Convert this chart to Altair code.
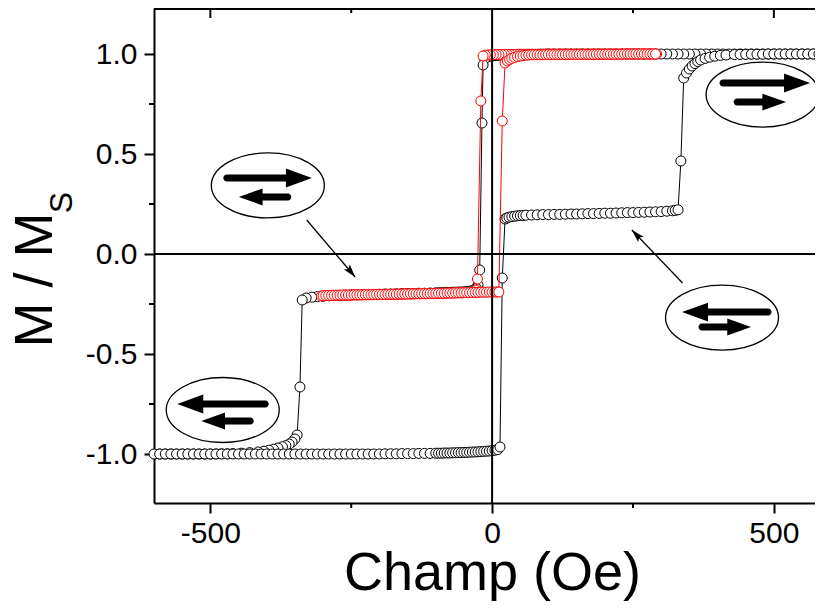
import altair as alt
import pandas as pd

# ---------------- data ----------------
# Black major loop: descending branch (+600 -> -600)
BD_X = [600, 590, 580, 570, 560, 550, 540, 530, 520, 510, 500, 490, 480, 470, 460, 450, 440, 430, 420, 410,
        400, 390, 380, 370, 360, 350, 340, 330, 320, 310, 300, 290, 280, 270, 260, 250, 240, 230, 220, 210,
        200, 190, 180, 170, 160, 150, 140, 130, 120, 110, 100,
        95, 90, 85, 80, 75, 70, 65, 60, 55, 50, 45, 40, 35, 30, 25, 20, 15, 10, 5, 0, -5, -10, -13,
        -16, -18, -22, -25, -28, -32, -36, -40, -45, -50, -55, -60, -65, -70, -75, -80, -85, -90, -95, -100,
        -110, -120, -130, -140, -150, -160, -170, -180, -190, -200, -210, -220, -230, -240, -250, -260, -270,
        -280, -290, -300, -310, -320, -330,
        -337, -341, -346, -350, -355, -360, -366, -372, -380, -388, -396, -405, -415, -430, -445, -460,
        -470, -480, -490, -500, -510, -520, -530, -540, -550, -560, -570, -580, -590, -600]
BD_Y = [1.0, 1.0, 1.0, 1.0, 1.0, 1.0, 1.0, 1.0, 1.0, 1.0, 1.0, 1.0, 1.0, 1.0, 1.0, 1.0, 1.0, 1.0, 1.0, 1.0,
        1.0, 1.0, 1.0, 1.0, 1.0, 1.0, 1.0, 1.0, 1.0, 1.0, 1.0, 1.0, 1.0, 1.0, 1.0, 1.0, 1.0, 1.0, 1.0, 1.0,
        1.0, 1.0, 1.0, 1.0, 1.0, 1.0, 1.0, 1.0, 1.0, 1.0, 1.0,
        0.999, 0.999, 0.999, 0.998, 0.998, 0.998, 0.998, 0.997, 0.997, 0.997, 0.996, 0.996, 0.996, 0.995,
        0.995, 0.994, 0.994, 0.993, 0.992, 0.990, 0.988, 0.985, 0.975,
        0.945, 0.655, -0.080, -0.155, -0.172, -0.180, -0.184, -0.186, -0.188, -0.189, -0.190, -0.190, -0.191,
        -0.191, -0.192, -0.192, -0.193, -0.193, -0.194, -0.194,
        -0.195, -0.196, -0.196, -0.197, -0.198, -0.198, -0.199, -0.200, -0.200, -0.201, -0.202, -0.202,
        -0.203, -0.204, -0.205, -0.206, -0.207, -0.208, -0.209, -0.211, -0.213, -0.216, -0.220,
        -0.230, -0.665, -0.905, -0.925, -0.940, -0.950, -0.958, -0.964, -0.970, -0.976, -0.981, -0.986,
        -0.990, -0.993, -0.996, -0.998,
        -0.999, -0.999, -1.0, -1.0, -1.0, -1.0, -1.0, -1.0, -1.0, -1.0, -1.0, -1.0, -1.0, -1.0]

# Black major loop: ascending branch (-600 -> +600)
BA_X = [-590, -580, -570, -560, -550, -540, -530, -520, -510, -500, -490, -480, -470, -460, -450, -440,
        -430, -420, -410, -400, -390, -380, -370, -360, -350, -340, -330, -320, -310, -300, -290, -280,
        -270, -260, -250, -240, -230, -220, -210, -200, -190, -180, -170, -160, -150, -140, -130, -120,
        -110, -100,
        -95, -90, -85, -80, -75, -70, -65, -60, -55, -50, -45, -40, -35, -30, -25, -20, -15, -10, -5, 0, 5, 10,
        14, 18, 23, 26, 30, 35, 40, 45, 50, 55, 60, 70,
        80, 90, 100, 110, 120, 130, 140, 150, 160, 170, 180, 190, 200, 210, 220, 230, 240, 250, 260, 270,
        280, 290, 300, 310, 320,
        325, 330, 335, 340, 345, 350, 355, 360, 365, 370, 378, 386, 395, 405, 415, 430,
        440, 450, 460, 470, 480, 490, 500, 510, 520, 530, 540, 550, 560, 570, 580, 590, 600]
BA_Y = [-1.0, -1.0, -1.0, -1.0, -1.0, -1.0, -1.0, -1.0, -1.0, -1.0, -1.0, -1.0, -1.0, -1.0, -1.0, -1.0,
        -1.0, -1.0, -1.0, -1.0, -1.0, -1.0, -1.0, -1.0, -1.0, -1.0, -1.0, -1.0, -1.0, -1.0, -1.0, -1.0,
        -1.0, -1.0, -1.0, -1.0, -1.0, -1.0, -1.0, -1.0, -0.999, -0.999, -0.999, -0.998, -0.998, -0.998,
        -0.997, -0.997, -0.997, -0.996,
        -0.996, -0.996, -0.995, -0.995, -0.995, -0.994, -0.994, -0.993, -0.993, -0.992, -0.992, -0.991,
        -0.990, -0.990, -0.989, -0.988, -0.987, -0.986, -0.985, -0.983, -0.981, -0.978,
        -0.965, -0.120, 0.175, 0.180, 0.184, 0.187, 0.189, 0.191, 0.192, 0.193, 0.194, 0.195,
        0.196, 0.197, 0.197, 0.198, 0.198, 0.199, 0.200, 0.200, 0.201, 0.202, 0.202, 0.203, 0.204, 0.204,
        0.205, 0.206, 0.207, 0.207, 0.208, 0.209, 0.210, 0.211, 0.212, 0.214, 0.216,
        0.218, 0.221, 0.465, 0.880, 0.905, 0.925, 0.940, 0.952, 0.962, 0.970, 0.978, 0.984, 0.989, 0.993,
        0.995, 0.997,
        0.998, 0.998, 0.999, 0.999, 0.999, 1.0, 1.0, 1.0, 1.0, 1.0, 1.0, 1.0, 1.0, 1.0, 1.0, 1.0, 1.0]

# Red minor loop: descending branch (+292 -> -303)
RD_X = [292, 287, 282, 277, 272, 267, 262, 257, 252, 247, 242, 237, 232, 227, 222, 217, 212, 207, 202, 197,
        192, 187, 182, 177, 172, 167, 162, 157, 152, 147, 142, 137, 132, 127, 122, 117, 112, 107, 102, 97,
        92, 87, 82, 77, 72, 67, 62, 57, 52, 47, 42, 37, 32, 27, 22, 17, 12, 7, 2, -3, -8,
        -12, -16, -20, -26, -29, -33,
        -38, -43, -48, -53, -58, -63, -68, -73, -78, -83, -88, -93, -98, -103, -108, -113, -118, -123, -128,
        -133, -138, -143, -148, -153, -158, -163, -168, -173, -178, -183, -188, -193, -198, -203, -208, -213,
        -218, -223, -228, -233, -238, -243, -248, -253, -258, -263, -268, -273, -278, -283, -288, -293, -298,
        -303]
RD_Y = [1.0, 1.0, 1.0, 1.0, 1.0, 1.0, 1.0, 1.0, 1.0, 1.0, 1.0, 1.0, 1.0, 1.0, 1.0, 1.0, 1.0, 1.0, 1.0, 1.0,
        1.0, 1.0, 1.0, 1.0, 1.0, 1.0, 1.0, 1.0, 1.0, 1.0, 1.0, 1.0, 1.0, 1.0, 1.0, 1.0, 1.0, 1.0, 1.0, 1.0,
        0.999, 0.999, 0.999, 0.999, 0.999, 0.999, 0.999, 0.999, 0.999, 0.999, 0.998, 0.998, 0.998, 0.998,
        0.998, 0.998, 0.997, 0.997, 0.996, 0.996, 0.995,
        0.994, 0.990, 0.765, -0.125, -0.180, -0.190,
        -0.192, -0.193, -0.193, -0.194, -0.194, -0.194, -0.195, -0.195, -0.195, -0.196,
        -0.196, -0.196, -0.197, -0.197, -0.197, -0.198, -0.198, -0.198, -0.199, -0.199,
        -0.199, -0.200, -0.200, -0.200, -0.200, -0.201, -0.201, -0.201, -0.202, -0.202,
        -0.202, -0.202, -0.203, -0.203, -0.203, -0.204, -0.204, -0.204, -0.204, -0.205,
        -0.205, -0.205, -0.205, -0.206, -0.206, -0.206, -0.206, -0.207, -0.207, -0.207,
        -0.208, -0.208, -0.209, -0.210]

# Red minor loop: ascending branch (-300 -> +290)
RA_X = [-300, -295, -290, -285, -280, -275, -270, -265, -260, -255, -250, -245, -240, -235, -230, -225,
        -220, -215, -210, -205, -200, -195, -190, -185, -180, -175, -170, -165, -160, -155, -150, -145,
        -140, -135, -130, -125, -120, -115, -110, -105, -100, -95, -90, -85, -80, -75, -70, -65, -60, -55,
        -50, -45, -40, -35, -30, -25, -20, -15, -10, -5, 0, 5,
        9, 12, 18, 23, 27, 31, 35, 40, 45, 50, 55, 60, 65,
        70, 75, 80, 85, 90, 95, 100, 105, 110, 115, 120, 125, 130, 135, 140, 145, 150, 155, 160, 165, 170,
        175, 180, 185, 190, 195, 200, 205, 210, 215, 220, 225, 230, 235, 240, 245, 250, 255, 260, 265, 270,
        275, 280, 285, 290]
RA_Y = [-0.209, -0.208, -0.207, -0.207, -0.206, -0.206, -0.206, -0.205, -0.205, -0.205,
        -0.205, -0.204, -0.204, -0.204, -0.204, -0.203, -0.203, -0.203, -0.203, -0.202,
        -0.202, -0.202, -0.202, -0.201, -0.201, -0.201, -0.201, -0.200, -0.200, -0.200,
        -0.200, -0.199, -0.199, -0.199, -0.199, -0.198, -0.198, -0.198, -0.197, -0.197,
        -0.197, -0.196, -0.196, -0.196, -0.195, -0.195, -0.195, -0.194, -0.194, -0.194,
        -0.193, -0.193, -0.193, -0.192, -0.192, -0.192, -0.191, -0.191, -0.191, -0.190, -0.190, -0.190,
        -0.190, -0.190, 0.665, 0.955, 0.965, 0.972, 0.978, 0.983, 0.987, 0.990, 0.992, 0.994, 0.995,
        0.996, 0.996, 0.996, 0.996, 0.996, 0.997, 0.997, 0.997, 0.997, 0.997, 0.997, 0.997, 0.997,
        0.998, 0.998, 0.998, 0.998, 0.998, 0.998, 0.998, 0.998, 0.998, 0.998,
        0.999, 0.999, 0.999, 0.999, 0.999, 0.999, 0.999, 0.999, 0.999, 0.999,
        1.0, 1.0, 1.0, 1.0, 1.0, 1.0, 1.0, 1.0, 1.0, 1.0, 1.0, 1.0]

X_TICKS = [-500, 0, 500]
X_MINOR = [-250, 250]
Y_TICKS = [-1.0, -0.5, 0.0, 0.5, 1.0]
Y_MINOR = [-0.75, -0.25, 0.25, 0.75]

# annotation glyphs: centre (field, M/Ms)
GLYPH_X = [-398, -478, 480, 408]
GLYPH_Y = [0.343, -0.78, 0.797, -0.318]
# pointer arrows: start and tip in data units
PTR_X0 = [-329, 338]
PTR_Y0 = [0.17, -0.145]
PTR_X1 = [-243, 248]
PTR_Y1 = [-0.115, 0.12]
PTR_ANGLE = [140, 316]

# ---------------- helpers ----------------
def arrow_path(y, tail, tip, t, L, h):
    d = 1 if tip > tail else -1
    base = tip - d * L
    sweep = 1 if d == 1 else 0
    return (f"M{tail},{y - t}L{base},{y - t}L{base},{y - h}L{tip},{y}L{base},{y + h}"
            f"L{base},{y + t}L{tail},{y + t}A{t},{t} 0 0 {sweep} {tail},{y - t}Z")

T, LL, HL, LS, HS = 0.062, 0.46, 0.168, 0.42, 0.15
GLYPH_PATHS = [
    arrow_path(-0.133, -0.726, 0.78, T, LL, HL) + arrow_path(0.204, 0.354, -0.513, T, LS, HS),
    arrow_path(-0.106, 0.752, -0.805, T, LL, HL) + arrow_path(0.195, 0.487, -0.38, T, LS, HS),
    arrow_path(-0.204, -0.70, 0.84, T, LL, HL) + arrow_path(0.133, -0.45, 0.416, T, LS, HS),
    arrow_path(-0.097, 0.814, -0.708, T, LL, HL) + arrow_path(0.168, -0.354, 0.513, T, LS, HS),
]
ELLIPSE = "M-1,0A1,0.575 0 1 1 1,0A1,0.575 0 1 1 -1,0Z"
HEAD = "M0,0L0.6,2L0,1.6L-0.6,2Z"

black = pd.DataFrame({"x": BD_X + BA_X, "y": BD_Y + BA_Y})
black["i"] = range(len(black))
red = pd.DataFrame({"x": RD_X + RA_X, "y": RD_Y + RA_Y})
red["i"] = range(len(red))
glyphs = pd.DataFrame({"x": GLYPH_X, "y": GLYPH_Y, "p": GLYPH_PATHS})
ptrs = pd.DataFrame({"x": PTR_X0, "y": PTR_Y0, "x1": PTR_X1, "y1": PTR_Y1, "a": PTR_ANGLE})
heads = pd.DataFrame({"x": PTR_X1, "y": PTR_Y1, "a": PTR_ANGLE})

FONT = "Liberation Sans"
W, H = 661, 495
XS = alt.Scale(domain=[-600, 573], nice=False, zero=False)
YS = alt.Scale(domain=[-1.245, 1.23], nice=False, zero=False)
fix = "replace(datum.label, '\u2212', '-')"

x_axis = alt.Axis(values=X_TICKS, format="d", labelExpr=fix, title="Champ (Oe)", tickSize=10, tickWidth=2,
                  domainWidth=2, labelFontSize=30, labelPadding=5, titleFontSize=54, titlePadding=-2,
                  titleX=338)
y_axis = alt.Axis(values=Y_TICKS, format=".1f", labelExpr=fix, title=None, tickSize=10, tickWidth=2,
                  domainWidth=2, labelFontSize=30, labelPadding=7)

X = alt.X("x:Q", scale=XS, axis=x_axis)
Y = alt.Y("y:Q", scale=YS, axis=y_axis)

black_line = alt.Chart(black).mark_line(color="black", strokeWidth=1).encode(x=X, y=Y, order="i:Q")
black_pts = alt.Chart(black).mark_point(shape="circle", filled=True, fill="white", stroke="black",
                                        strokeWidth=1, size=100, opacity=1).encode(x=X, y=Y)
red_line = alt.Chart(red).mark_line(color="#ff0000", strokeWidth=1).encode(x=X, y=Y, order="i:Q")
red_pts = alt.Chart(red).mark_point(shape="circle", filled=True, fill="white", stroke="#ff0000",
                                    strokeWidth=1, size=100, opacity=1).encode(x=X, y=Y)

zero_h = alt.Chart(pd.DataFrame({"y": [0]})).mark_rule(color="black", strokeWidth=2).encode(y=Y)
zero_v = alt.Chart(pd.DataFrame({"x": [0]})).mark_rule(color="black", strokeWidth=2).encode(x=X)
top_frame = alt.Chart(pd.DataFrame({"a": [0]})).mark_rule(color="black", strokeWidth=2).encode(
    y=alt.value(1))

top_major = alt.Chart(pd.DataFrame({"x": [-500, 500]})).mark_rule(color="black", strokeWidth=2).encode(
    x=X, y=alt.value(0), y2=alt.value(10))
top_minor = alt.Chart(pd.DataFrame({"x": X_MINOR})).mark_rule(color="black", strokeWidth=2).encode(
    x=X, y=alt.value(0), y2=alt.value(5))
bot_minor = alt.Chart(pd.DataFrame({"x": X_MINOR})).mark_rule(color="black", strokeWidth=2).encode(
    x=X, y=alt.value(H), y2=alt.value(H + 5))
left_minor = alt.Chart(pd.DataFrame({"y": Y_MINOR})).mark_rule(color="black", strokeWidth=2).encode(
    y=Y, x=alt.value(-5), x2=alt.value(0))

ellipses = alt.Chart(glyphs).mark_point(shape=ELLIPSE, filled=True, fill="white", stroke="black",
                                        strokeWidth=1.3, size=113 * 113, opacity=1).encode(x=X, y=Y)
arrows = alt.Chart(glyphs).mark_point(filled=True, fill="black", strokeWidth=0, size=113 * 113,
                                      opacity=1).encode(
    x=X, y=Y, shape=alt.Shape("p:N", scale=None, legend=None))
ptr_lines = alt.Chart(ptrs).mark_rule(color="black", strokeWidth=1.3).encode(
    x=X, y=Y, x2="x1:Q", y2="y1:Q")
ptr_heads = alt.Chart(heads).mark_point(shape=HEAD, filled=True, fill="black", strokeWidth=0, size=169,
                                        opacity=1).encode(
    x=X, y=Y, angle=alt.Angle("a:Q", scale=None))

ylab1 = alt.Chart(pd.DataFrame({"t": ["M / M"]})).mark_text(
    font=FONT, fontSize=54, angle=270, align="center", baseline="alphabetic", color="black").encode(
    x=alt.value(-102), y=alt.value(272), text="t:N")
ylab2 = alt.Chart(pd.DataFrame({"t": ["S"]})).mark_text(
    font=FONT, fontSize=32, angle=270, align="center", baseline="alphabetic", color="black").encode(
    x=alt.value(-82), y=alt.value(194.5), text="t:N")

chart = alt.layer(
    black_line, black_pts, red_line, red_pts,
    zero_h, zero_v, top_frame, top_major, top_minor, bot_minor, left_minor,
    ptr_lines, ptr_heads, ellipses, arrows, ylab1, ylab2,
).properties(
    width=W, height=H,
    autosize=alt.AutoSizeParams(type="none"),
    padding={"left": 146, "top": 0, "right": 0, "bottom": 105},
).configure_view(stroke=None).configure_axis(
    grid=False, labelFont=FONT, titleFont=FONT, labelColor="black", titleColor="black",
    tickColor="black", domainColor="black", titleFontWeight="normal", labelFontWeight="normal",
)

chart.save("out.html", embed_options={"renderer": "svg", "actions": False})
